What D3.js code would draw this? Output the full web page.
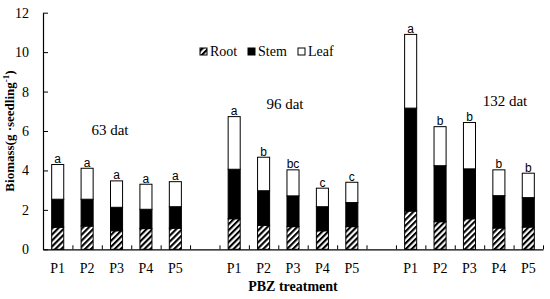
<!DOCTYPE html>
<html lang="en">
<head>
	<meta charset="UTF-8">
	<title>PBZ biomass</title>
	<script type="text/javascript" src="https://cdn.jsdelivr.net/npm/d3@7/dist/d3.min.js"></script>
	<style>
		body { margin: 0; background: #fff; }
		text { font-family: 'Liberation Serif', 'Times New Roman', serif; }
	</style>
</head>
<body>
<svg></svg>
<script>
	// values (g per seedling)
	var groups = ['63 dat', '96 dat', '132 dat'];
	var treatments = ['P1', 'P2', 'P3', 'P4', 'P5'];

	var root63 = [1.12, 1.18, 0.94, 1.05, 1.07];
	var stem63 = [1.42, 1.36, 1.19, 0.98, 1.09];
	var leaf63 = [1.76, 1.57, 1.34, 1.27, 1.27];
	var sig63 = ['a', 'a', 'a', 'a', 'a'];

	var root96 = [1.55, 1.22, 1.15, 0.94, 1.15];
	var stem96 = [2.51, 1.75, 1.56, 1.22, 1.22];
	var leaf96 = [2.67, 1.70, 1.32, 0.94, 1.03];
	var sig96 = ['a', 'b', 'bc', 'c', 'c'];

	var root132 = [1.94, 1.40, 1.55, 1.08, 1.13];
	var stem132 = [5.22, 2.84, 2.53, 1.64, 1.49];
	var leaf132 = [3.74, 1.98, 2.35, 1.31, 1.24];
	var sig132 = ['a', 'b', 'b', 'b', 'b'];

	var yTicks = [0, 2, 4, 6, 8, 10, 12];
	var parts = ['Root', 'Stem', 'Leaf'];

	var width = 550, height = 299;
	var svg = d3.select('svg')
		.attr('width', width)
		.attr('height', height);

	// slots: 5 bars, an empty slot, 5 bars, an empty slot, 5 bars
	var slots = [];
	var rows = [];
	var tables = [[root63, stem63, leaf63, sig63], [root96, stem96, leaf96, sig96], [root132, stem132, leaf132, sig132]];
	groups.forEach(function (g, gi) {
		if (gi > 0) slots.push('gap' + gi);
		treatments.forEach(function (t, ti) {
			var key = g + '|' + t;
			slots.push(key);
			rows.push({ key: key, group: g, Root: tables[gi][0][ti], Stem: tables[gi][1][ti], Leaf: tables[gi][2][ti], sig: tables[gi][3][ti] });
		});
	});

	var x0 = 43, x1 = 543, yb = 249.3, yt = 12.7;

	var x = d3.scaleBand()
		.domain(slots)
		.range([x0, x1])
		.paddingInner(0.59)
		.paddingOuter(0.295);

	var xEdge = d3.scaleLinear()
		.domain([0, slots.length])
		.range([x0, x1]);

	var y = d3.scaleLinear()
		.domain([0, 12])
		.range([yb, yt]);

	var defs = svg.append('defs');
	var pat = defs.append('pattern')
		.attr('id', 'hatch')
		.attr('patternUnits', 'userSpaceOnUse')
		.attr('width', 4.2)
		.attr('height', 4.2)
		.attr('patternTransform', 'rotate(45)');
	pat.append('rect').attr('width', 4.2).attr('height', 4.2).attr('fill', '#fff');
	pat.append('rect').attr('width', 2.1).attr('height', 4.2).attr('fill', '#000');

	var fills = { Root: 'url(#hatch)', Stem: '#000', Leaf: '#fff' };

	var stack = d3.stack().keys(parts)(rows);

	svg.append('g')
		.selectAll('g')
		.data(stack)
		.enter().append('g')
		.attr('fill', function (s) { return fills[s.key]; })
		.selectAll('rect')
		.data(function (s) { return s; })
		.enter().append('rect')
		.attr('x', function (d) { return x(d.data.key); })
		.attr('y', function (d) { return y(d[1]); })
		.attr('width', x.bandwidth())
		.attr('height', function (d) { return y(d[0]) - y(d[1]); })
		.attr('stroke', '#000')
		.attr('stroke-width', 1);

	// significance letters
	svg.append('g')
		.selectAll('text')
		.data(rows)
		.enter().append('text')
		.attr('x', function (d) { return x(d.key) + x.bandwidth() / 2; })
		.attr('y', function (d) { return y(d.Root + d.Stem + d.Leaf) - 1.5; })
		.attr('text-anchor', 'middle')
		.attr('fill', '#000')
		.style('font-family', 'Liberation Sans, Arial, sans-serif')
		.style('font-size', '12px')
		.text(function (d) { return d.sig; });

	// y axis
	var yAxis = svg.append('g')
		.attr('transform', 'translate(' + x0 + ',0)')
		.call(d3.axisLeft(y).tickValues(yTicks).tickSize(-5).tickSizeOuter(0).tickPadding(14));
	yAxis.selectAll('text').style('font-size', '14px').attr('fill', '#000');

	// x axis: ticks on slot edges, labels under bars
	var xAxis = svg.append('g')
		.attr('transform', 'translate(0,' + yb + ')')
		.call(d3.axisBottom(xEdge).tickValues(d3.range(1, slots.length + 1)).tickSize(-4).tickSizeOuter(0).tickFormat(''));
	var xLab = svg.append('g')
		.attr('transform', 'translate(0,' + yb + ')')
		.call(d3.axisBottom(x).tickSize(0).tickPadding(14)
			.tickFormat(function (k) { return k.indexOf('|') < 0 ? '' : k.split('|')[1]; }));
	xLab.select('.domain').remove();
	xLab.selectAll('text').style('font-size', '14px').attr('fill', '#000');
	svg.selectAll('.domain').attr('stroke-width', 1.2);

	// group labels
	var groupPos = [[110, 135], [285, 109], [505, 106]];
	groups.forEach(function (g, gi) {
		svg.append('text')
			.attr('x', groupPos[gi][0])
			.attr('y', groupPos[gi][1])
			.attr('text-anchor', 'middle')
			.style('font-size', '15px')
			.text(g);
	});

	// axis titles
	var yTitle = svg.append('text')
		.attr('transform', 'translate(14,' + ((yb + yt) / 2) + ') rotate(-90)')
		.attr('text-anchor', 'middle')
		.style('font-size', '13px')
		.style('font-weight', 'bold');
	yTitle.append('tspan').text('Biomass(g ·seedling');
	yTitle.append('tspan').attr('dy', -5).style('font-size', '9px').text('-1');
	yTitle.append('tspan').attr('dy', 5).text(')');

	svg.append('text')
		.attr('x', (x0 + x1) / 2)
		.attr('y', 291)
		.attr('text-anchor', 'middle')
		.style('font-size', '14px')
		.style('font-weight', 'bold')
		.text('PBZ treatment');

	// legend
	var legX = [200, 248, 298];
	var leg = svg.append('g');
	parts.forEach(function (p, i) {
		leg.append('rect')
			.attr('x', legX[i])
			.attr('y', 48)
			.attr('width', 7)
			.attr('height', 7)
			.attr('fill', fills[p])
			.attr('stroke', '#000');
		leg.append('text')
			.attr('x', legX[i] + 10)
			.attr('y', 56)
			.style('font-size', '14px')
			.text(p);
	});
</script>
</body>
</html>
